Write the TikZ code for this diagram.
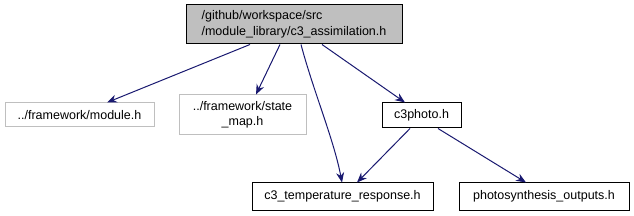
\documentclass[tikz,border=0pt]{standalone}
\usepackage{fontspec}
\setmainfont{Liberation Sans}
\usetikzlibrary{arrows.meta}
\definecolor{edgeblue}{HTML}{191970}
\definecolor{grayfill}{HTML}{BFBFBF}
\definecolor{grayline}{HTML}{BFBFBF}
\begin{document}
\begin{tikzpicture}[x=1pt,y=-1pt,
  box/.style={draw=black, line width=1pt, inner sep=0pt, font=\fontsize{12.5}{15.5}\selectfont, align=center},
  gbox/.style={draw=grayline, line width=1pt, inner sep=0pt, font=\fontsize{12.5}{15.5}\selectfont, align=center},
  edge/.style={draw=edgeblue, line width=1pt, -{Stealth[length=10pt,width=8pt]}}]
\useasboundingbox (0,0) rectangle (634,216);
\node[box, fill=grayfill, minimum width=216pt, minimum height=39pt, align=left] (top) at (294,24.5)
  {/github/workspace/src\\/module\_library/c3\_assimilation.h};
\node[gbox, minimum width=149pt, minimum height=24pt] (mod) at (79.5,115) {../framework/module.h};
\node[gbox, minimum width=127pt, minimum height=40pt] (sm) at (242.5,115) {../framework/state\\\_map.h};
\node[box, minimum width=79pt, minimum height=25pt] (c3p) at (421.5,115.5) {c3photo.h};
\node[box, minimum width=181pt, minimum height=27pt] (temp) at (342.5,196.5) {c3\_temperature\_response.h};
\node[box, minimum width=170pt, minimum height=27pt] (ps) at (544,196.5) {photosynthesis\_outputs.h};
\draw[edge] (top.south -| 250,0) -- (mod.north -| 107,0);
\draw[edge] (top.south -| 280,0) -- (sm.north -| 256,0);
\draw[edge] (top.south -| 301,0) .. controls (313,90) and (334,140) .. (temp.north -| 342,0);
\draw[edge] (top.south -| 322,0) -- (c3p.north -| 405,0);
\draw[edge] (c3p.south -| 410,0) -- (temp.north -| 357,0);
\draw[edge] (c3p.south -| 438,0) -- (ps.north -| 526,0);
\end{tikzpicture}
\end{document}
